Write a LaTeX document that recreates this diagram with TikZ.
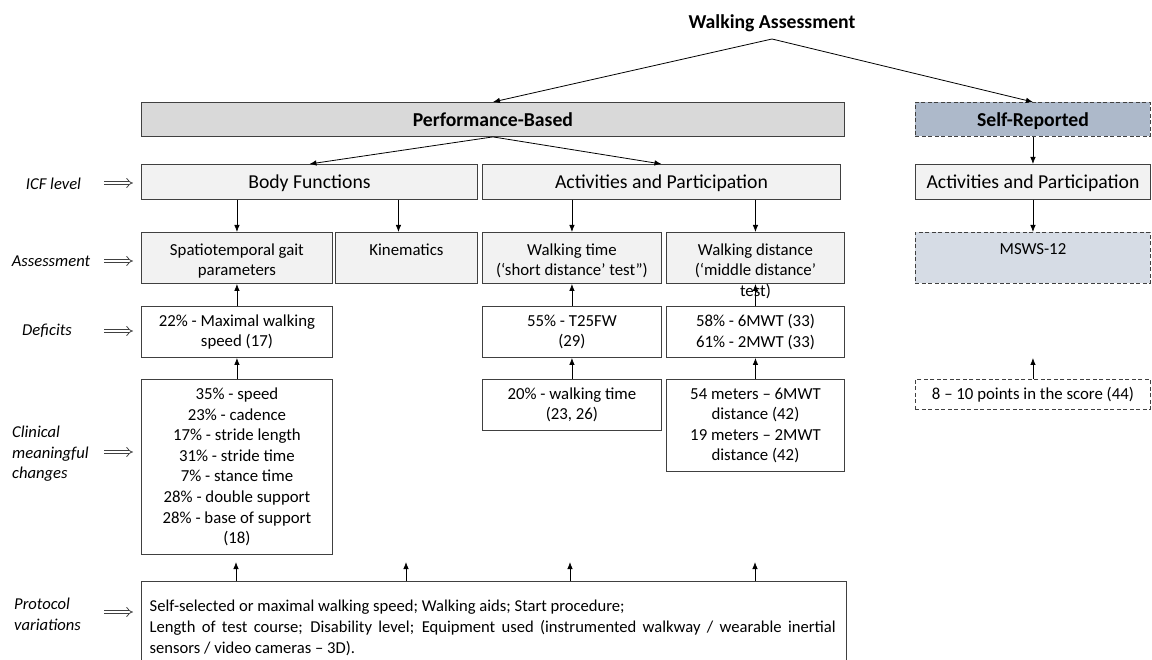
\documentclass[tikz,border=0pt]{standalone}
\usepackage{fontspec}
\setmainfont{Carlito}
\usetikzlibrary{arrows.meta,calc}
\definecolor{bord}{HTML}{404040}
\definecolor{perfgray}{HTML}{D9D9D9}
\definecolor{lightgray}{HTML}{F2F2F2}
\definecolor{srblue}{HTML}{ADB9CA}
\definecolor{mswsblue}{HTML}{D6DCE5}
\tikzset{
  box/.style={draw=bord, line width=0.9pt, inner sep=0pt, align=center, anchor=north west,
    font=\fontsize{16.8}{20.6}\selectfont},
  hdr/.style={box, font=\fontsize{19.7}{23}\selectfont, text height=13.4pt, text depth=0pt},
  dbox/.style={dash pattern=on 4pt off 2.5pt},
  txt/.style={inner sep=0pt, align=center, anchor=north, font=\fontsize{16.8}{20.6}\selectfont},
  conn/.style={draw=black, line width=0.8pt, -{Latex[length=7pt,width=5.5pt]}},
  lab/.style={inner sep=0pt, font=\fontsize{16.6}{20.5}\selectfont\itshape},
  dbl/.style={draw=bord, double=white, double distance=2.8pt, line width=0.75pt, -{Implies}},
  prot/.style={inner sep=0pt, anchor=base west, font=\fontsize{16.6}{21}\selectfont},
}
\begin{document}
\begin{tikzpicture}[x=1pt,y=-1pt]
\useasboundingbox (0,0) rectangle (1152,660);

% top
\node[inner sep=0pt, font=\fontsize{19.7}{23}\selectfont\bfseries] (wa) at (772,23) {Walking Assessment};
\coordinate (apex) at (772,39);

% level 1
\node[hdr, fill=perfgray, minimum width=703, minimum height=34] (perf) at (141,102) {\bfseries Performance-Based};
\node[hdr, dbox, fill=srblue, minimum width=235, minimum height=34] (sr) at (915,102) {\bfseries Self-Reported};

% ICF level
\node[hdr, fill=lightgray, minimum width=336, minimum height=35] (bf) at (141,164) {Body Functions};
\node[hdr, fill=lightgray, minimum width=358, minimum height=35] (ap) at (482,164) {Activities and Participation};
\node[hdr, fill=lightgray, minimum width=235, minimum height=35] (ap2) at (915,164) {Activities and Participation};

% assessment boxes
\node[box, fill=lightgray, minimum width=191, minimum height=51] (spt) at (141,232) {};
\node[box, fill=lightgray, minimum width=142, minimum height=51] (kin) at (335,232) {};
\node[box, fill=lightgray, minimum width=179, minimum height=51] (wt) at (482,232) {};
\node[box, fill=lightgray, minimum width=178, minimum height=51] (wd) at (666,232) {};
\node[box, dbox, fill=mswsblue, minimum width=235, minimum height=51] (msws) at (915,232) {};
\node[txt] (sptt) at ([yshift=-11.5pt]spt.north) {Spatiotemporal gait\\parameters};
\node[txt] (kint) at ([yshift=-11.5pt]kin.north) {Kinematics};
\node[txt] (wtt) at ([yshift=-11.5pt]wt.north) {Walking time\\(‘short distance’ test”)};
\node[txt] (wdt) at ([yshift=-11.5pt]wd.north) {Walking distance\\(‘middle distance’\\test)};
\node[txt] (mswst) at ([yshift=-11.5pt]msws.north) {MSWS-12};

% deficits
\node[box, fill=white, minimum width=191, minimum height=51] (d1) at (141,306) {22\% - Maximal walking\\speed (17)};
\node[box, fill=white, minimum width=179, minimum height=51] (d2) at (482,306) {55\% - T25FW\\(29)};
\node[box, fill=white, minimum width=178, minimum height=51] (d3) at (666,306) {58\% - 6MWT (33)\\61\% - 2MWT (33)};

% clinical meaningful changes
\node[box, fill=white, minimum width=191, minimum height=175] (c1) at (141,379)
  {35\% - speed\\23\% - cadence\\17\% - stride length\\31\% - stride time\\7\% - stance time\\28\% - double support\\28\% - base of support\\(18)};
\node[box, fill=white, minimum width=179, minimum height=51] (c2) at (482,379) {20\% - walking time\\(23, 26)};
\node[box, fill=white, minimum width=178, minimum height=92] (c3) at (666,379) {54 meters – 6MWT\\distance (42)\\19 meters – 2MWT\\distance (42)};
\node[box, dbox, fill=white, minimum width=235, minimum height=30] (c4) at (915,379) {8 – 10 points in the score (44)};

% protocol
\node[box, fill=white, minimum width=705, minimum height=84] (pr) at (141,581) {};
\node[prot] (pl1) at (149.5,611) {Self-selected or maximal walking speed; Walking aids; Start procedure;};
\node[prot] (pl2) at (149.5,632) {\makebox[686pt][s]{Length of test course; Disability level; Equipment used (instrumented walkway / wearable inertial}};
\node[prot] (pl3) at (149.5,653) {sensors / video cameras – 3D).};

% connectors top
\draw[conn] (apex) -- (perf.north);
\draw[conn] (apex) -- (sr.north);
\draw[conn] (perf.south) -- (bf.north);
\draw[conn] (perf.south) -- (ap.north);
\draw[conn] (sr.south) -- (ap2.north);
\draw[conn] (spt.north |- bf.south) -- (spt.north);
\draw[conn] ([xshift=-8pt]kin.north |- bf.south) -- ([xshift=-8pt]kin.north);
\draw[conn] (wt.north |- ap.south) -- (wt.north);
\draw[conn] (wd.north |- ap.south) -- (wd.north);
\draw[conn] (msws.north |- ap2.south) -- (msws.north);

% upward connectors
\draw[conn] (d1.north) -- (spt.south);
\draw[conn] (c1.north) -- (d1.south);
\draw[conn] (d2.north) -- (wt.south);
\draw[conn] (c2.north) -- (d2.south);
\draw[conn] (d3.north) -- (wd.south);
\draw[conn] (c3.north) -- (d3.south);
\coordinate (scoreup) at ([yshift=21pt]c4.north);
\draw[conn] (c4.north) -- (scoreup);
\foreach \x [count=\i] in {236,406,570,755} {
  \coordinate (pa\i) at (\x,562);
  \draw[conn] (pa\i |- pr.north) -- (pa\i);
}

% left labels
\node[lab] (licf) at (53.5,184) {ICF level};
\node[lab] (lass) at (51,261) {Assessment};
\node[lab] (ldef) at (47,331) {Deficits};
\node[lab, anchor=west, align=left] (lcli) at (12,454) {Clinical\\meaningful\\changes};
\node[lab, anchor=west, align=left] (lpro) at (14,614.5) {Protocol\\variations};
\foreach \y/\n in {183/a,261/b,331/c,452/d,612/e} {
  \coordinate (s\n) at (104,\y);
  \coordinate (t\n) at (133,\y);
  \draw[dbl] (s\n) -- (t\n);
}
\end{tikzpicture}
\end{document}
